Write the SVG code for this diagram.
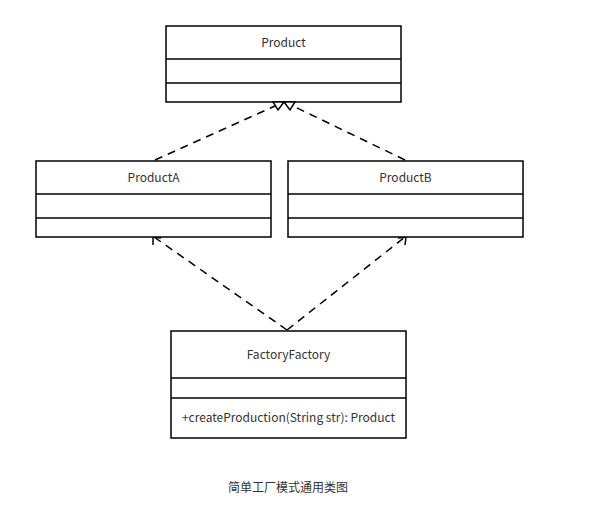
<svg xmlns="http://www.w3.org/2000/svg" width="611" height="507" viewBox="0 0 611 507">
<defs>
<style>
.box{fill:#fff;stroke:#000;stroke-width:1.5}
.div{stroke:#000;stroke-width:1.5}
.t{font-family:"Noto Sans CJK SC","Noto Sans",sans-serif;font-size:12px;fill:#333;text-anchor:middle}
.dash{fill:none;stroke:#000;stroke-width:1.5;stroke-dasharray:8 6}
.tri{fill:#fff;stroke:#000;stroke-width:1.5;stroke-linejoin:miter}
.open{fill:none;stroke:#000;stroke-width:1.5}
</style>
</defs>
<rect width="611" height="507" fill="#fff"/>
<g id="connectors">
<line class="dash" x1="155" y1="160" x2="275" y2="106"/>
<line class="dash" x1="405" y1="160" x2="293" y2="106"/>
<line class="dash" x1="287" y1="330" x2="154" y2="237"/>
<line class="dash" x1="287" y1="330" x2="405" y2="237"/>
<polyline class="open" points="153,245 153,237 161,238"/>
<polyline class="open" points="398,238 406,237 405,245"/>
</g>
<g id="Product">
<rect class="box" x="166" y="26" width="235" height="76"/>
<line class="div" x1="166" y1="59" x2="401" y2="59"/>
<line class="div" x1="166" y1="83" x2="401" y2="83"/>
<text class="t" x="283.5" y="47">Product</text>
</g>
<g id="arrowheads">
<polygon class="tri" points="284,102 273,102 278,110"/>
<polygon class="tri" points="284,102 295,102 290,110"/>
</g>
<g id="ProductA">
<rect class="box" x="36" y="161" width="235" height="76"/>
<line class="div" x1="36" y1="194" x2="271" y2="194"/>
<line class="div" x1="36" y1="218" x2="271" y2="218"/>
<text class="t" x="153.5" y="182">ProductA</text>
</g>
<g id="ProductB">
<rect class="box" x="288" y="161" width="235" height="76"/>
<line class="div" x1="288" y1="194" x2="523" y2="194"/>
<line class="div" x1="288" y1="218" x2="523" y2="218"/>
<text class="t" x="405.5" y="182">ProductB</text>
</g>
<g id="FactoryFactory">
<rect class="box" x="171" y="331" width="235" height="107"/>
<line class="div" x1="171" y1="378" x2="406" y2="378"/>
<line class="div" x1="171" y1="398" x2="406" y2="398"/>
<text class="t" x="288.5" y="359">FactoryFactory</text>
<text class="t" x="288.5" y="422">+createProduction(String str): Product</text>
</g>
<text class="t" x="288" y="492">简单工厂模式通用类图</text>
</svg>
